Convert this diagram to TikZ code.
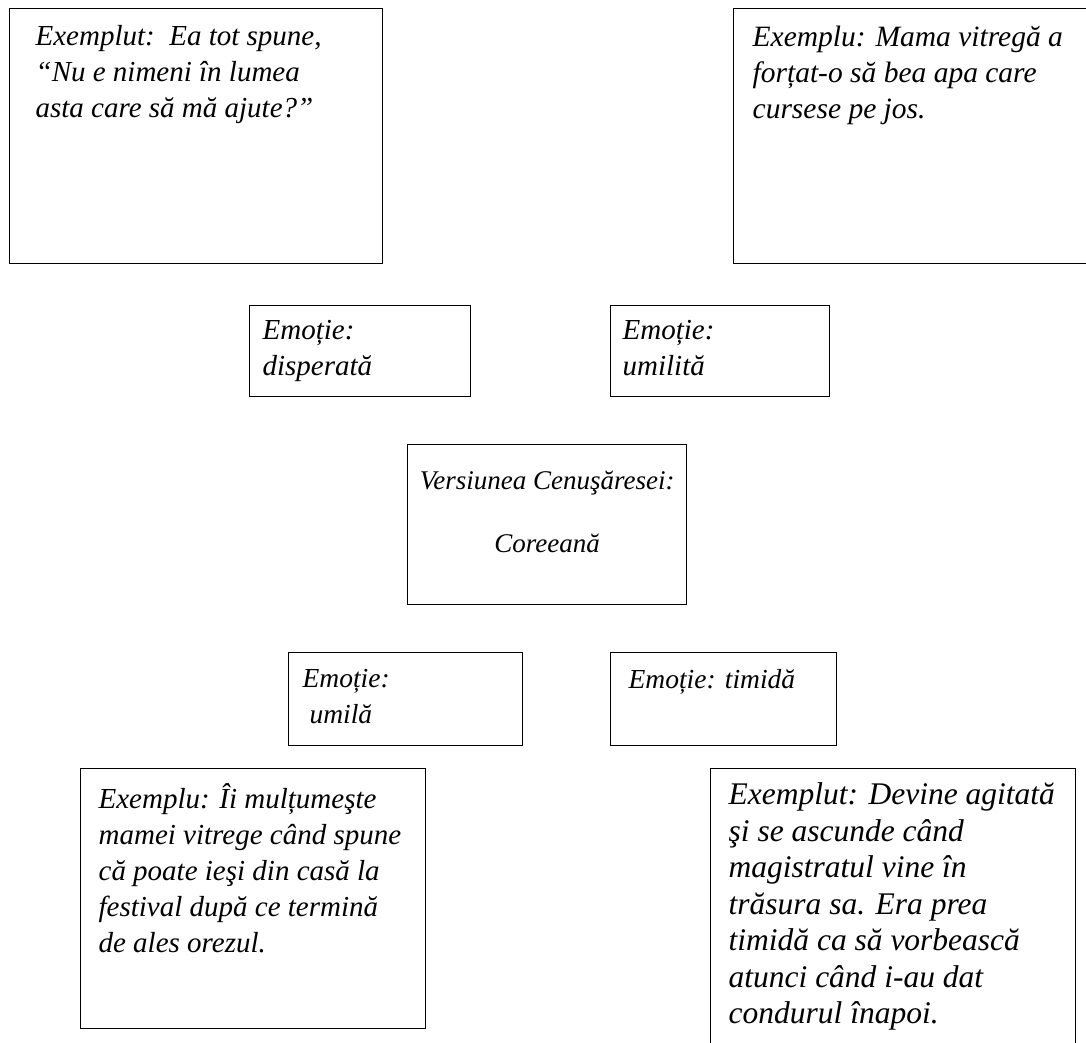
\documentclass[tikz,border=0pt]{standalone}
\usepackage{fontspec}
\setmainfont{Liberation Serif}
% #1 total width, #2 total height, #3 left pad, #4 top pad, #5 text
\newcommand{\bxt}[5]{\parbox[t][#2][t]{#1}{\vspace*{#4}\leftskip=#3\relax\rightskip=0pt plus 1fil\relax\parfillskip=0pt plus 1fil\relax #5}}
\newcommand{\bxc}[4]{\parbox[t][#2][t]{#1}{\vspace*{#3}\centering #4}}
\tikzset{
  cbox/.style={draw=black, line width=1.3pt, anchor=north west, inner sep=0pt,
    font=\fontsize{29}{36}\selectfont\itshape},
  fsmall/.style={font=\fontsize{27}{36}\selectfont\itshape},
  fmid/.style={font=\fontsize{27.5}{36}\selectfont\itshape},
  fbig/.style={font=\fontsize{31.5}{36.5}\selectfont\itshape},
}
\begin{document}
\begin{tikzpicture}[x=1pt,y=-1pt]
\useasboundingbox (0,0) rectangle (1086,1042);
\fill[white] (0,0) rectangle (1086,1042);
\clip (0,0) rectangle (1086,1042);
% top-left
\node[cbox] (A) at (9,8)
  {\bxt{373pt}{255pt}{26pt}{17pt}{Exemplut:\ \ Ea tot spune,\\“Nu e nimeni în lumea\\asta care să mă ajute?”}};
% top-right
\node[cbox, font=\fontsize{29.5}{36}\selectfont\itshape] (B) at (733,8)
  {\bxt{400pt}{255pt}{19pt}{17pt}{Exemplu: Mama vitregă a\\forțat-o să bea apa care\\cursese pe jos.}};
% emotion boxes upper
\node[cbox] (C) at (249,305)
  {\bxt{221pt}{91pt}{13pt}{15pt}{Emoție:\\disperată}};
\node[cbox] (D) at (610,305)
  {\bxt{219pt}{91pt}{12pt}{15pt}{Emoție:\\umilită}};
% centre
\node[cbox, fsmall] (E) at (407,444)
  {\bxc{279pt}{160pt}{26pt}{Versiunea Cenuşăresei:\\[27pt]Coreeană}};
% emotion boxes lower
\node[cbox, fmid] (F) at (288,652)
  {\bxt{234pt}{93pt}{14pt}{17pt}{Emoție:\\\hspace*{0.25em}umilă}};
\node[cbox, fmid] (G) at (610,652)
  {\bxt{226pt}{93pt}{18pt}{17pt}{Emoție: timidă}};
% bottom examples
\node[cbox] (H) at (80,768)
  {\bxt{345pt}{260pt}{18pt}{15pt}{Exemplu: Îi mulțumeşte\\mamei vitrege când spune\\că poate ieşi din casă la\\festival după ce termină\\de ales orezul.}};
\node[cbox, fbig] (I) at (710,768)
  {\bxt{365pt}{300pt}{18pt}{14pt}{Exemplut: Devine agitată\\şi se ascunde când\\magistratul vine în\\trăsura sa. Era prea\\timidă ca să vorbească\\atunci când i-au dat\\condurul înapoi.}};
\end{tikzpicture}
\end{document}
